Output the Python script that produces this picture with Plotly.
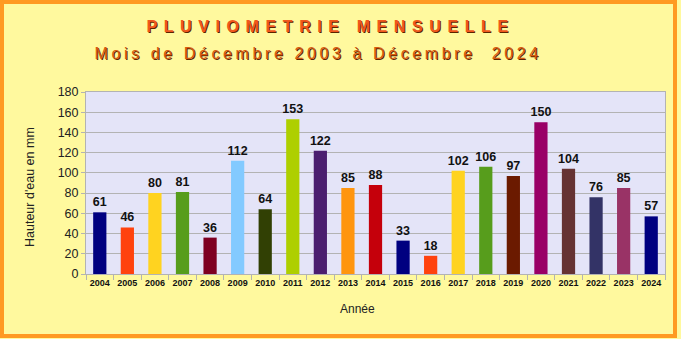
import plotly.graph_objects as go

# Monthly rainfall totals (December of each year), in mm
years = [str(y) for y in range(2004, 2025)]
rain_mm = [61, 46, 80, 81, 36, 112, 64, 153, 122, 85, 88, 33, 18, 102, 106, 97, 150, 104, 76, 85, 57]
bar_colors = [
    "#000080", "#FF420E", "#FFD320", "#579D1C", "#7E0021", "#83CAFF", "#314004",
    "#AECF00", "#4B1F6F", "#FF950E", "#C5000B", "#000080", "#FF420E", "#FFD320",
    "#579D1C", "#6B1A00", "#990066", "#663333", "#333366", "#993366", "#000080",
]
y_ticks = list(range(0, 181, 20))

title_text = "PLUVIOMETRIE MENSUELLE"
subtitle_text = "Mois de Décembre 2003 à Décembre  2024"
y_title = "Hauteur d'eau en mm"
x_title = "Année"

W, H = 681, 339
L, R, T, B = 86, 16, 92, 65
PW, PH = W - L - R, H - T - B


def px(x):
    return (x - L) / PW


def py(y):
    return (H - B - y) / PH


fig = go.Figure(
    go.Bar(
        x=years,
        y=rain_mm,
        marker=dict(color=bar_colors, line=dict(width=0)),
        text=[str(v) for v in rain_mm],
        textposition="outside",
        constraintext="none",
        textfont=dict(family="Liberation Sans, Arial", size=12.5, color="#111111", weight="bold"),
        cliponaxis=False,
        hoverinfo="skip",
    )
)

fig.update_layout(
    width=W,
    height=H,
    margin=dict(l=L, r=R, t=T, b=B, pad=0),
    paper_bgcolor="#FFF99E",
    plot_bgcolor="#E4E4F8",
    bargap=0.52,
    showlegend=False,
    font=dict(family="Liberation Sans, Arial", color="#222222"),
    xaxis=dict(
        type="category",
        tickangle=0,
        tickfont=dict(size=9, color="#111111", weight="bold"),
        showline=True, linecolor="#B3B3B3", linewidth=1, mirror=True,
        ticks="outside", tickson="boundaries", ticklen=5, tickcolor="#B3B3B3",
        showgrid=False,
    ),
    yaxis=dict(
        range=[0, 180],
        tickvals=y_ticks,
        tickfont=dict(size=12.5, color="#222222"),
        showline=True, linecolor="#B3B3B3", linewidth=1, mirror=True,
        ticks="outside", ticklen=4, tickcolor="#B3B3B3",
        gridcolor="#B3B3B3", gridwidth=1,
        zeroline=False,
    ),
    shapes=[
        dict(
            type="rect", xref="paper", yref="paper",
            x0=px(2), x1=px(675), y0=py(2), y1=py(336),
            line=dict(color="#FF9A22", width=4), fillcolor="rgba(0,0,0,0)",
            layer="above",
        )
    ],
    annotations=[
        dict(
            text=title_text, xref="paper", yref="paper", x=px(330), y=py(27),
            xanchor="center", yanchor="middle", showarrow=False,
            font=dict(family="Liberation Sans, Arial", size=16, color="#F0581C", weight="bold",
                      shadow="1px 1px 0px #5A2400"),
        ),
        dict(
            text=subtitle_text, xref="paper", yref="paper", x=px(318), y=py(53),
            xanchor="center", yanchor="middle", showarrow=False,
            font=dict(family="Liberation Sans, Arial", size=16, color="#D85C10",
                      shadow="1px 1px 0px #5A2400"),
        ),
        dict(
            text=y_title, xref="paper", yref="paper", x=px(30), y=py(187),
            xanchor="center", yanchor="middle", showarrow=False, textangle=-90,
            font=dict(size=12.5, color="#222222"),
        ),
        dict(
            text=x_title, xref="paper", yref="paper", x=px(357), y=py(309),
            xanchor="center", yanchor="middle", showarrow=False,
            font=dict(size=12, color="#222222"),
        ),
    ],
)

# Letter spacing for the two heading lines (not exposed as a Plotly font option)
spacing_js = """
var spacing = {'%s': '6.6px', '%s': '3.6px'};
document.querySelectorAll('.annotation-text').forEach(function(t) {
  var s = spacing[t.textContent];
  if (s) { t.style.letterSpacing = s; }
});
""" % (title_text, subtitle_text)

fig.write_html("out.html", post_script=spacing_js)
